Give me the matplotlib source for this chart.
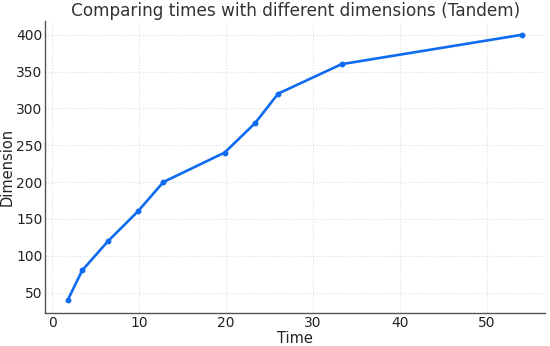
import matplotlib
matplotlib.use("Agg")
import matplotlib.pyplot as plt

times = [1.8, 3.45, 6.45, 9.85, 12.8, 19.85, 23.35, 26.0, 33.3, 54.1]
dimensions = [40, 80, 120, 160, 200, 240, 280, 320, 360, 400]

fig = plt.figure(figsize=(5.5, 3.46), dpi=100)
ax = fig.add_axes([0.082, 0.095, 0.909, 0.843])
ax.plot(times, dimensions, color="#0f6bef", linewidth=1.9, marker="o", markersize=3.2)

ax.set_title("Comparing times with different dimensions (Tandem)", fontsize=12.2, color="#333333", pad=4)
ax.set_xlabel("Time", fontsize=10.5, color="#222222", labelpad=1)
ax.set_ylabel("Dimension", fontsize=10.5, color="#222222", labelpad=1)
ax.grid(True, color="#dddddd", linestyle=":", linewidth=0.8)
for s in ["top", "right"]:
    ax.spines[s].set_visible(False)
for s in ["left", "bottom"]:
    ax.spines[s].set_color("#555555")
    ax.spines[s].set_linewidth(1.0)
ax.tick_params(length=0, labelsize=10, labelcolor="#222222", pad=2)
ax.set_xticks([0, 10, 20, 30, 40, 50])
ax.set_yticks([50, 100, 150, 200, 250, 300, 350, 400])
fig.savefig("out.png", dpi=100)
